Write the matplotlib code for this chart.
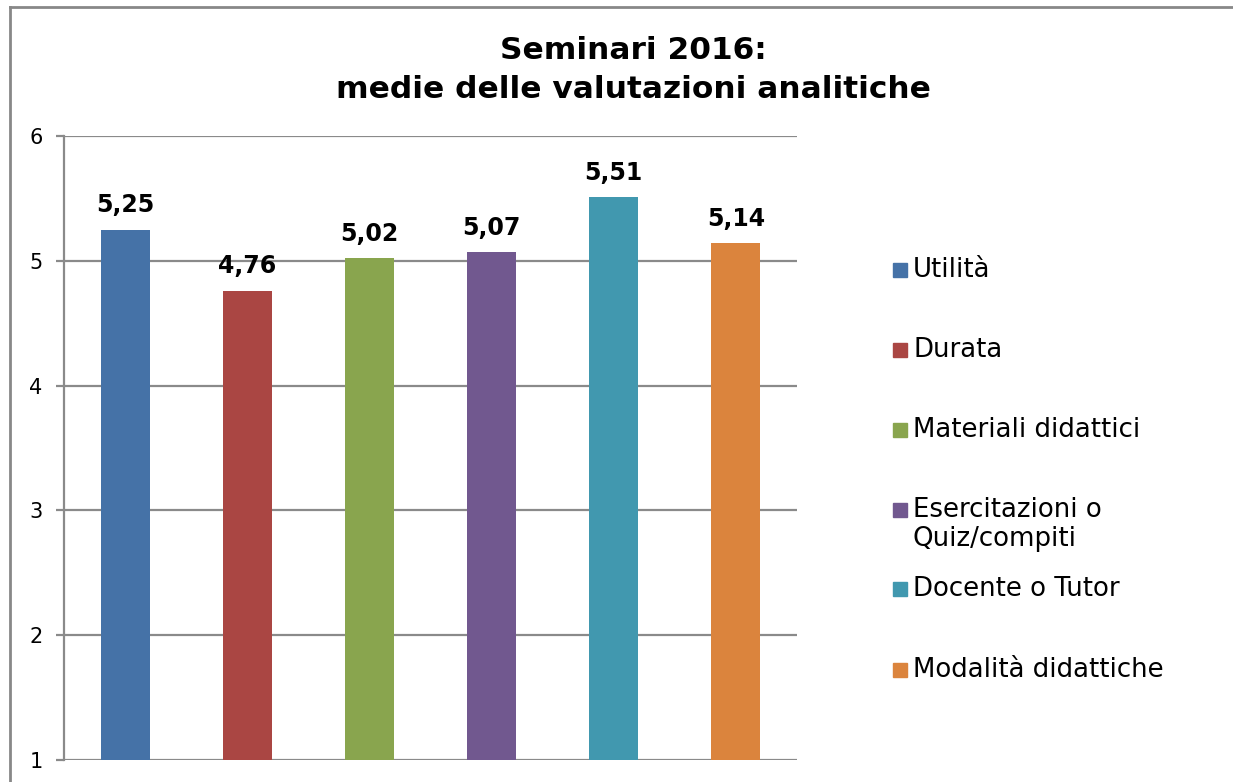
import matplotlib
matplotlib.use("Agg")
import matplotlib.pyplot as plt
from matplotlib.patches import Rectangle
from matplotlib.lines import Line2D

categories = ["Utilità", "Durata", "Materiali didattici",
              "Esercitazioni o\nQuiz/compiti", "Docente o Tutor",
              "Modalità didattiche"]
values = [5.25, 4.76, 5.02, 5.07, 5.51, 5.14]
value_labels = ["5,25", "4,76", "5,02", "5,07", "5,51", "5,14"]
colors = ["#4572A7", "#AA4643", "#89A54E", "#71588F", "#4198AF", "#DB843D"]
yticks = [1, 2, 3, 4, 5, 6]
title = "Seminari 2016:\nmedie delle valutazioni analitiche"

plt.rcParams['font.family'] = ['DejaVu Sans']
W, H = 1233, 782
fig = plt.figure(figsize=(W / 100, H / 100), dpi=100)

ax = fig.add_axes([64 / W, (H - 760) / H, 733 / W, 624 / H])
x = list(range(len(categories)))
bars = ax.bar(x, [v - 1 for v in values], bottom=1, width=0.4, color=colors,
              zorder=3)
ax.set_xlim(-0.5, len(categories) - 0.5)
ax.set_ylim(1, 6)
ax.set_yticks(yticks)
ax.set_yticklabels([str(t) for t in yticks], fontsize=15)
ax.set_xticks([])
grid_color = "#8a8a8a"
ax.yaxis.grid(True, color=grid_color, linewidth=1.6, zorder=0)
for s in ["top", "right", "bottom"]:
    ax.spines[s].set_visible(False)
ax.spines["left"].set_color(grid_color)
ax.spines["left"].set_linewidth(1.6)
ax.tick_params(axis="y", length=5.5, width=1.6, color=grid_color, pad=10)

for xi, v, lab in zip(x, values, value_labels):
    ax.annotate(lab, (xi, v), xytext=(0, 17.5), textcoords="offset points",
                ha="center", va="center", fontsize=17, fontweight="bold")

fig.text(633 / W, 1 - 70 / H, title, ha="center", va="center",
         fontsize=22.5, fontweight="bold", linespacing=1.4)

# legend
legend_y = [270, 350, 430, 510, 589, 670]
for lab, c, yy in zip(categories, colors, legend_y):
    fig.patches.append(Rectangle((893 / W, 1 - (yy + 7) / H), 14 / W, 14 / H,
                                 transform=fig.transFigure, color=c))
    fig.text(913 / W, 1 - (yy - 13) / H, lab, ha="left", va="top",
             fontsize=18.7, linespacing=1.15)

# outer frame (partially visible)
fig.add_artist(Line2D([10 / W, 1], [1 - 7 / H, 1 - 7 / H],
                      transform=fig.transFigure, color="#888888", linewidth=2))
fig.add_artist(Line2D([10 / W, 10 / W], [0, 1 - 7 / H],
                      transform=fig.transFigure, color="#888888", linewidth=2))

fig.savefig("out.png", dpi=100, facecolor="white")
